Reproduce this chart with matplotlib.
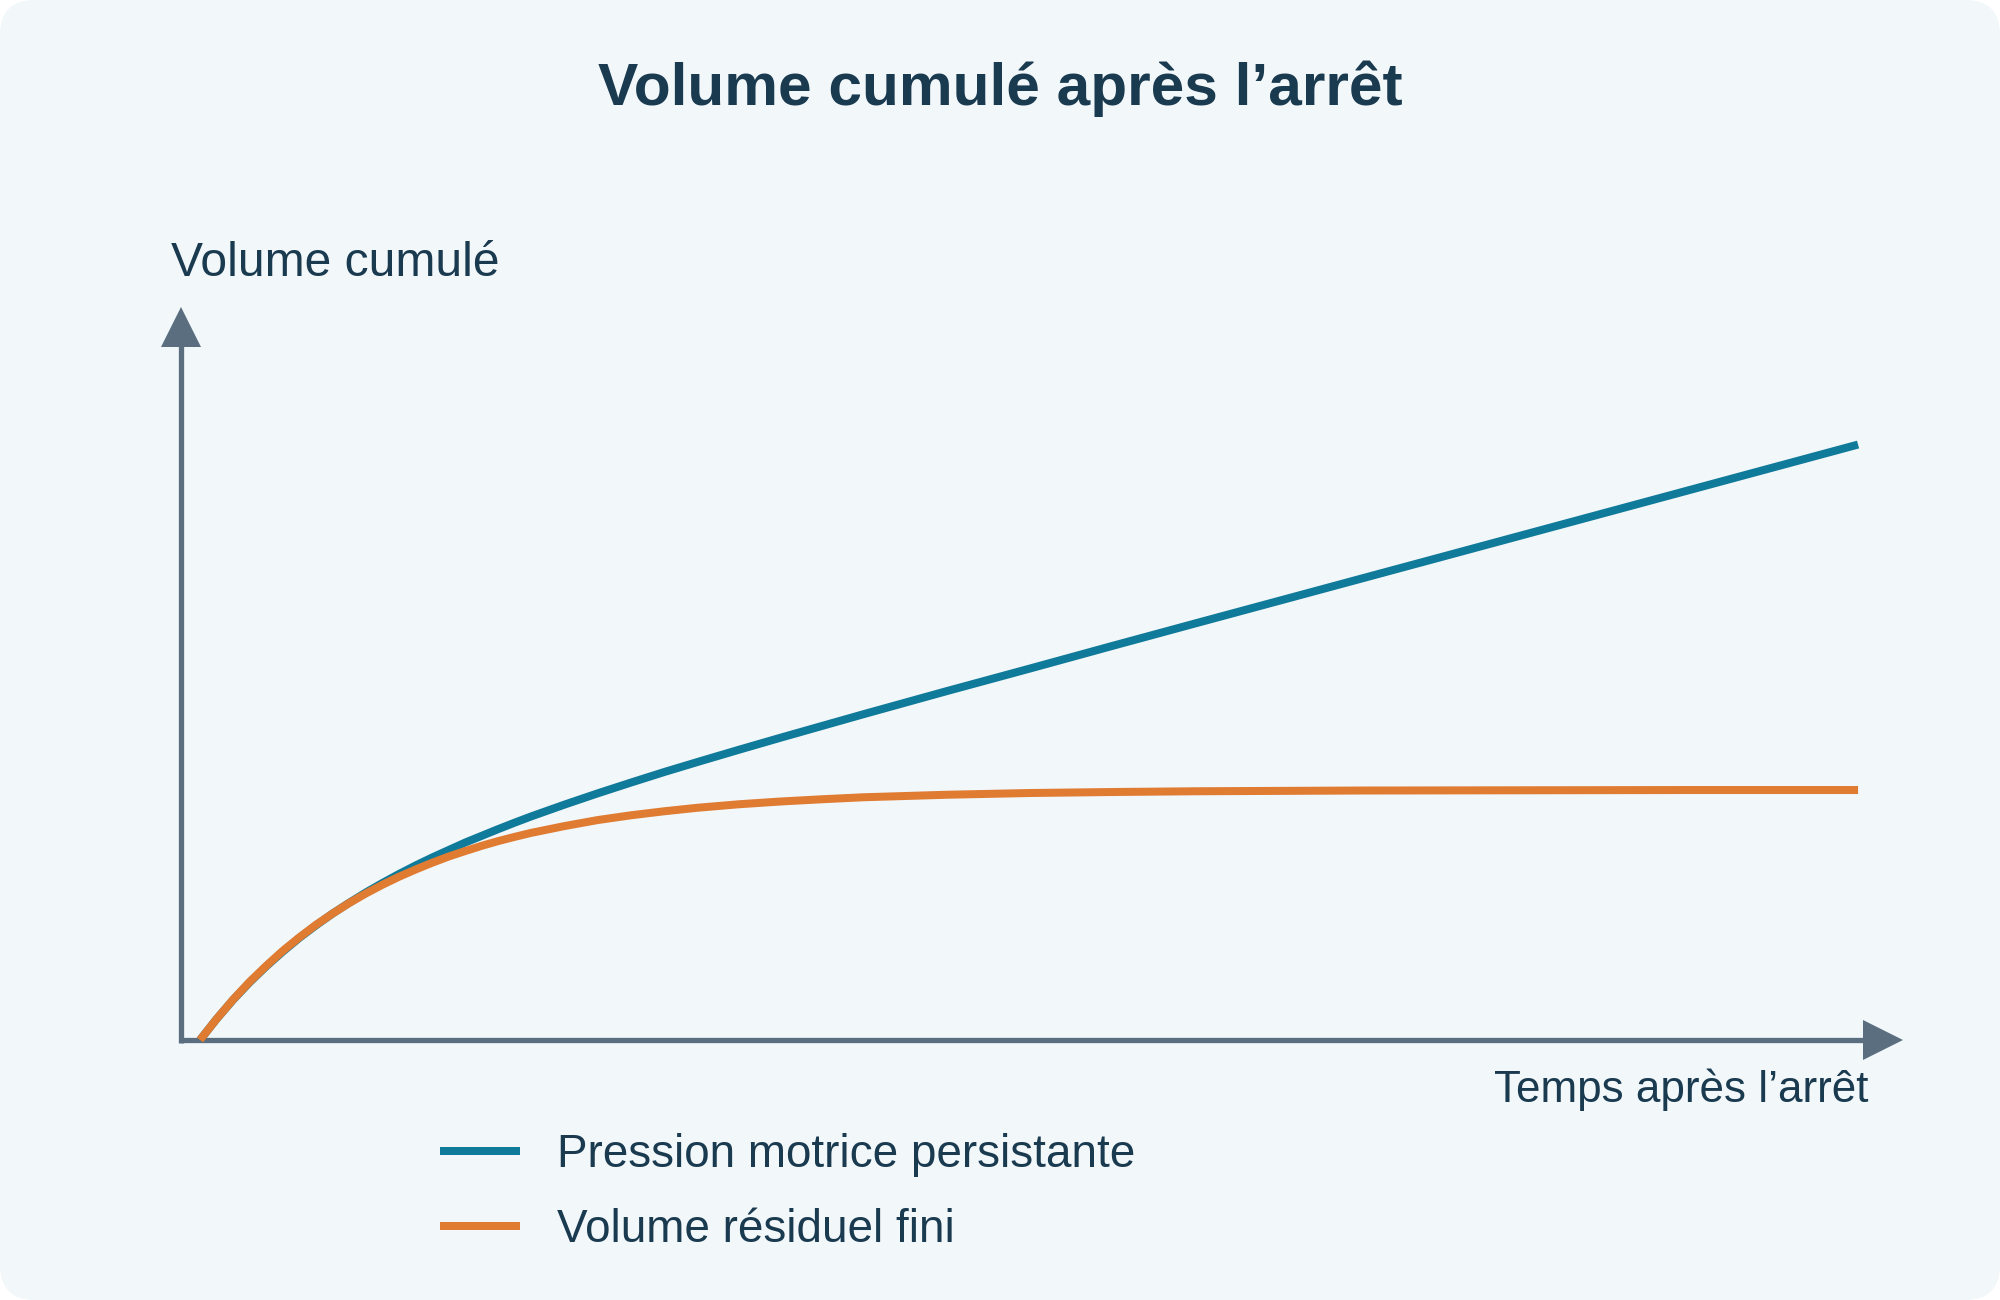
import matplotlib
matplotlib.use("Agg")
import matplotlib.pyplot as plt
from matplotlib.patches import FancyBboxPatch
from matplotlib.transforms import IdentityTransform

plt.rcParams['font.family'] = ['Liberation Sans', 'DejaVu Sans']

# values (arbitrary units: time 0..10, volume plateau = 1)
temps = [0, 0.1, 0.2, 0.3, 0.4, 0.5, 0.6, 0.7, 0.8, 0.9, 1.0, 1.1, 1.2, 1.3,
         1.4, 1.5, 1.6, 1.7, 1.8, 1.9, 2.0, 2.2, 2.4, 2.6, 2.8, 3.0, 3.25,
         3.5, 3.75, 4.0, 4.5, 5.0, 5.5, 6.0, 7.0, 8.0, 9.0, 10.0]
pression = [0, 0.084, 0.161, 0.231, 0.295, 0.354, 0.409, 0.459, 0.506, 0.549,
            0.590, 0.628, 0.664, 0.698, 0.730, 0.760, 0.790, 0.817, 0.844,
            0.870, 0.895, 0.942, 0.987, 1.030, 1.072, 1.112, 1.161, 1.209,
            1.256, 1.303, 1.395, 1.485, 1.576, 1.666, 1.845, 2.024, 2.203,
            2.382]
residuel = [0, 0.084, 0.162, 0.233, 0.297, 0.357, 0.411, 0.461, 0.506, 0.548,
            0.586, 0.621, 0.653, 0.682, 0.709, 0.734, 0.756, 0.777, 0.796,
            0.813, 0.829, 0.856, 0.880, 0.899, 0.915, 0.929, 0.943, 0.954,
            0.963, 0.971, 0.981, 0.988, 0.992, 0.995, 0.998, 0.999, 1.0, 1.0]
labels = ["Pression motrice persistante", "Volume résiduel fini"]

title = "Volume cumulé après l’arrêt"
ylabel = "Volume cumulé"
xlabel = "Temps après l’arrêt"

blue = '#0F7A99'
orange = '#E07B32'
axis_c = '#5A6E80'
text_c = '#1A3A50'
bg_c = '#F2F7FA'

fig = plt.figure(figsize=(20, 13), dpi=100)
fig.patch.set_facecolor('white')

bg = FancyBboxPatch((0, 0), 2000, 1300, boxstyle='round,pad=0,rounding_size=35',
                    transform=IdentityTransform(), facecolor=bg_c,
                    edgecolor='none', zorder=-10)
fig.add_artist(bg)

ax = fig.add_axes([0.0905, 0.2, 0.861, 0.5638])
ax.patch.set_alpha(0)
for s in ax.spines.values():
    s.set_visible(False)
ax.set_xticks([])
ax.set_yticks([])
ax.set_xlim(-0.1146, 10.271)
ax.set_ylim(0, 2.932)

# axis lines with triangular heads
ta = ax.transAxes
ax.plot([0, 0.98], [0, 0], color=axis_c, lw=3.8, solid_capstyle='butt',
        transform=ta, clip_on=False)
ax.plot([0, 0], [-0.0036, 0.97], color=axis_c, lw=3.8, solid_capstyle='butt',
        transform=ta, clip_on=False)
ax.plot([0.9881], [0], marker='>', ms=29.5, mew=0, color=axis_c,
        transform=ta, clip_on=False)
ax.plot([0], [0.9727], marker='^', ms=29.5, mew=0, color=axis_c,
        transform=ta, clip_on=False)

ax.plot(temps, pression, color=blue, lw=5.76, solid_capstyle='butt',
        label=labels[0], clip_on=False, zorder=3)
ax.plot(temps, residuel, color=orange, lw=5.76, solid_capstyle='butt',
        label=labels[1], clip_on=False, zorder=4)

leg = ax.legend(loc='center left', bbox_to_anchor=(0.22, 0.0827),
                bbox_transform=fig.transFigure, frameon=False, fontsize=33,
                handlelength=1.75, handletextpad=0.81, labelspacing=0.68,
                borderpad=0, borderaxespad=0)
for t in leg.get_texts():
    t.set_color(text_c)

fig.text(0.5, 1 - 105 / 1300, title, ha='center', va='baseline',
         fontsize=43.5, fontweight='bold', color=text_c)
fig.text(171 / 2000, 1 - 276 / 1300, ylabel, ha='left', va='baseline',
         fontsize=34.6, color=text_c)
fig.text(1868 / 2000, 1 - 1102 / 1300, xlabel, ha='right', va='baseline',
         fontsize=31.7, color=text_c)

fig.savefig('out.png', dpi=100, facecolor=fig.get_facecolor())
